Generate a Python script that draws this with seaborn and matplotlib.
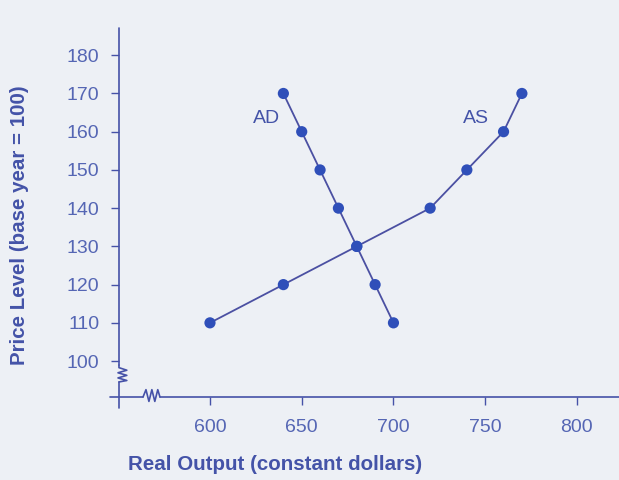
import matplotlib

matplotlib.use("Agg")
import matplotlib.pyplot as plt
import pandas as pd
import seaborn as sns

# --- datos ------------------------------------------------------------------
ad_output = [640, 650, 660, 670, 680, 690, 700]
ad_price = [170, 160, 150, 140, 130, 120, 110]
as_output = [600, 640, 680, 720, 740, 760, 770]
as_price = [110, 120, 130, 140, 150, 160, 170]
x_ticks = [600, 650, 700, 750, 800]
y_ticks = [100, 110, 120, 130, 140, 150, 160, 170, 180]

BG = "#edf0f5"
AXIS = "#4652a8"
LINE = "#4b50a2"
DOT = "#2f4fb9"
TEXT = "#4453a8"

df = pd.concat([
    pd.DataFrame({"output": ad_output, "price": ad_price, "curva": "AD"}),
    pd.DataFrame({"output": as_output, "price": as_price, "curva": "AS"}),
])

sns.set_theme(style="white")
plt.rcParams["font.family"] = ["Liberation Sans", "DejaVu Sans"]

fig = plt.figure(figsize=(6.19, 4.8), dpi=100, facecolor=BG)
ax = fig.add_axes([0.1922, 0.1729, 0.7932, 0.7646])
ax.set_facecolor(BG)

sns.lineplot(data=df, x="output", y="price", hue="curva", units="curva",
             estimator=None, sort=False, palette=[LINE, LINE], lw=1.3,
             legend=False, ax=ax)
sns.scatterplot(data=df, x="output", y="price", color=DOT, s=65,
                edgecolor="none", legend=False, ax=ax, zorder=3)

ax.text(631, 163.5, "AD", color=TEXT, fontsize=14, ha="center", va="center")
ax.text(745, 163.5, "AS", color=TEXT, fontsize=14, ha="center", va="center")

ax.set_xlim(550.4, 818)
ax.set_ylim(90.6, 186.6)
ax.set_xticks(x_ticks)
ax.set_yticks(y_ticks)
ax.set_xticklabels([str(v) for v in x_ticks])
ax.set_yticklabels([str(v) for v in y_ticks])
ax.tick_params(axis="both", colors=AXIS, labelcolor="#5566b4", labelsize=14,
               length=6, width=1, direction="out", left=True, bottom=True)
ax.tick_params(axis="y", pad=8)
ax.tick_params(axis="x", pad=10)

for s in ax.spines.values():
    s.set_visible(False)

# ejes dibujados a mano con el corte (zigzag)
tr = ax.transAxes
yz = [0.087, 0.080, 0.073, 0.066, 0.059, 0.052, 0.045, 0.041]
xz = [0, 0, 0.016, -0.002, 0.016, -0.002, 0.016, 0]
ax.plot([0, 0], [1.005, yz[0]], color=AXIS, lw=1.2, transform=tr, clip_on=False)
ax.plot(xz[:-1] + [0], yz[:-1] + [0.041], color=AXIS, lw=1.2, transform=tr,
        clip_on=False)
ax.plot([0, 0], [0.041, -0.03], color=AXIS, lw=1.2, transform=tr, clip_on=False)

xb = [0.049, 0.055, 0.061, 0.067, 0.073, 0.079, 0.0835]
yb = [0, 0.02, -0.012, 0.02, -0.012, 0.02, 0]
ax.plot([-0.018, xb[0]], [0, 0], color=AXIS, lw=1.2, transform=tr, clip_on=False)
ax.plot(xb, yb, color=AXIS, lw=1.2, transform=tr, clip_on=False)
ax.plot([xb[-1], 1.05], [0, 0], color=AXIS, lw=1.2, transform=tr, clip_on=False)

ax.set_xlabel("Real Output (constant dollars)", color=TEXT, fontsize=14.8,
              fontweight="bold", va="center")
ax.xaxis.set_label_coords(0.318, -0.185)
ax.set_ylabel("Price Level (base year = 100)", color=TEXT, fontsize=14.8,
              fontweight="bold", va="center")
ax.yaxis.set_label_coords(-0.2016, 0.469)

fig.savefig("out.png", dpi=100, facecolor=BG)
